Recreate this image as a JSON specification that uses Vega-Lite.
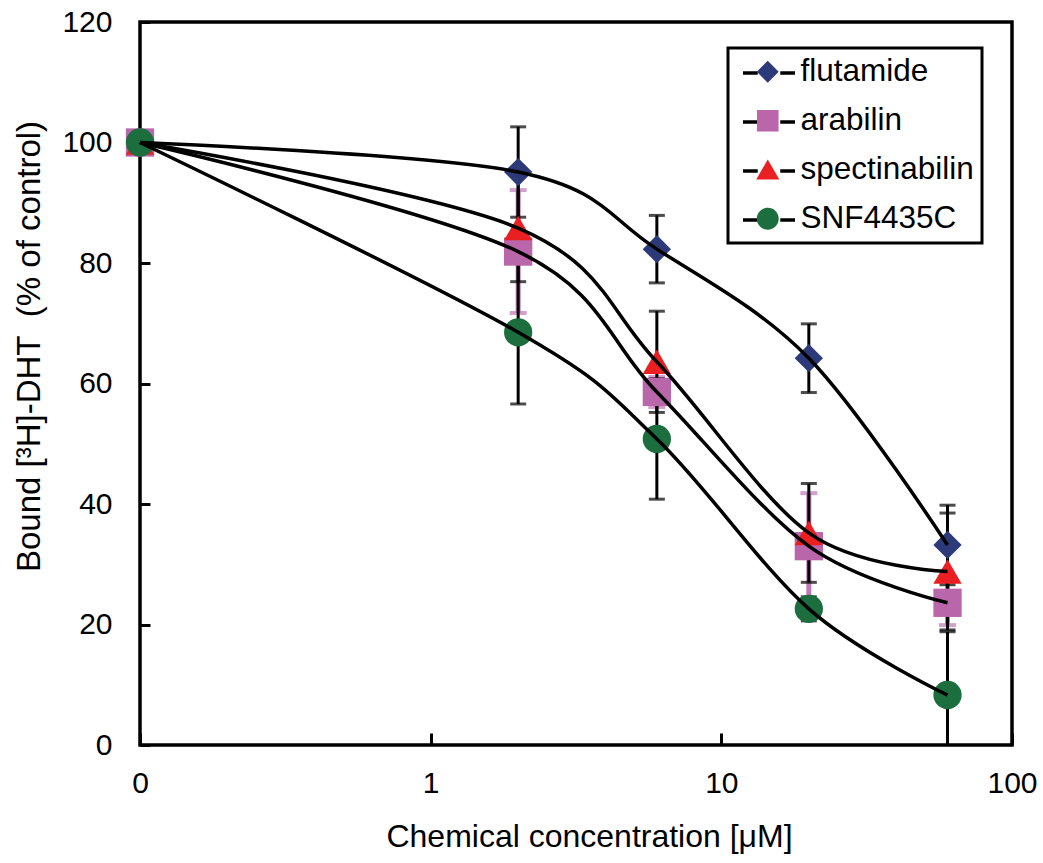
{
  "$schema": "https://vega.github.io/schema/vega-lite/v6.json",
  "width": 872,
  "height": 723,
  "autosize": {"type": "none"},
  "padding": {"left": 140, "top": 22, "right": 31, "bottom": 118},
  "background": "white",
  "config": {
    "view": {"stroke": "black", "strokeWidth": 3.5},
    "font": "Liberation Sans",
    "legend": {"strokeWidth": 3},
    "axis": {"domain": false, "grid": false, "labelFont": "Liberation Sans", "titleFont": "Liberation Sans", "labelColor": "black", "titleColor": "black", "tickColor": "black", "titleFontWeight": "normal"}
  },
  "data": {
    "values": [
      {"series": "flutamide", "conc": 0.1, "mean": 100, "sd": 0},
      {"series": "flutamide", "conc": 2, "mean": 95.1, "sd": 7.5},
      {"series": "flutamide", "conc": 6, "mean": 82.3, "sd": 5.6},
      {"series": "flutamide", "conc": 20, "mean": 64.2, "sd": 5.7},
      {"series": "flutamide", "conc": 60, "mean": 33.2, "sd": 6.6},
      {"series": "arabilin", "conc": 0.1, "mean": 100, "sd": 0},
      {"series": "arabilin", "conc": 2, "mean": 81.9, "sd": 10.2},
      {"series": "arabilin", "conc": 6, "mean": 58.6, "sd": 2.5},
      {"series": "arabilin", "conc": 20, "mean": 33.0, "sd": 8.8},
      {"series": "arabilin", "conc": 60, "mean": 23.6, "sd": 3.7},
      {"series": "spectinabilin", "conc": 0.1, "mean": 100, "sd": 0},
      {"series": "spectinabilin", "conc": 2, "mean": 85.8, "sd": 8.9},
      {"series": "spectinabilin", "conc": 6, "mean": 63.6, "sd": 8.4},
      {"series": "spectinabilin", "conc": 20, "mean": 35.2, "sd": 8.2},
      {"series": "spectinabilin", "conc": 60, "mean": 28.8, "sd": 9.7},
      {"series": "SNF4435C", "conc": 0.1, "mean": 100, "sd": 0},
      {"series": "SNF4435C", "conc": 2, "mean": 68.5, "sd": 11.9},
      {"series": "SNF4435C", "conc": 6, "mean": 50.8, "sd": 10.0},
      {"series": "SNF4435C", "conc": 20, "mean": 22.6, "sd": 2.0},
      {"series": "SNF4435C", "conc": 60, "mean": 8.3, "sd": 10.5}
    ]
  },
  "encoding": {
    "x": {
      "field": "conc", "type": "quantitative",
      "scale": {"type": "log", "domain": [0.1, 100], "nice": false},
      "axis": {
        "values": [0.1, 1, 10, 100],
        "labelExpr": "datum.value < 0.5 ? '0' : format(datum.value, 'd')",
        "labelFontSize": 30, "labelPadding": 59, "labelBaseline": "alphabetic", "labelFlush": false,
        "tickSize": -12, "tickWidth": 3,
        "title": "Chemical concentration [μM]", "titleFontSize": 32,
        "titleX": 449, "titleY": 101, "titleBaseline": "alphabetic", "titleAlign": "center"
      }
    },
    "y": {
      "field": "mean", "type": "quantitative",
      "scale": {"domain": [0, 120], "nice": false},
      "axis": {
        "values": [0, 20, 40, 60, 80, 100, 120],
        "labelFontSize": 30, "labelPadding": 38, "labelFlush": false,
        "tickSize": -10, "tickWidth": 3,
        "title": "Bound [³H]-DHT\u00a0\u00a0(% of control)", "titleFontSize": 33,
        "titleX": -111, "titleY": 324, "titleAngle": -90, "titleAlign": "center", "titleBaseline": "middle"
      }
    }
  },
  "resolve": {"scale": {"fill": "independent", "shape": "independent"}},
  "layer": [
    {
      "transform": [{"filter": "datum.series === 'arabilin'"}],
      "mark": {"type": "errorbar", "ticks": {"size": 17, "thickness": 4}, "rule": {"strokeWidth": 5}, "color": "#c277b6", "clip": true},
      "encoding": {"yError": {"field": "sd"}}
    },
    {
      "transform": [{"filter": "datum.series !== 'arabilin'"}],
      "mark": {"type": "errorbar", "ticks": {"size": 16, "thickness": 3}, "rule": {"strokeWidth": 3}, "color": "black", "clip": true},
      "encoding": {"yError": {"field": "sd"}}
    },
    {
      "mark": {"type": "point", "filled": true, "size": 800, "opacity": 1, "strokeWidth": 0},
      "encoding": {
        "fill": {
          "field": "series", "type": "nominal",
          "scale": {"domain": ["flutamide", "arabilin", "spectinabilin", "SNF4435C"], "range": ["#2d3a7a", "#b966aa", "#ea1f22", "#1c6e3e"]},
          "legend": null
        },
        "shape": {
          "field": "series", "type": "nominal",
          "scale": {"domain": ["flutamide", "arabilin", "spectinabilin", "SNF4435C"], "range": ["diamond", "square", "triangle-up", "circle"]},
          "legend": null
        }
      }
    },
    {
      "mark": {"type": "line", "interpolate": "cardinal", "strokeWidth": 3.5},
      "encoding": {
        "stroke": {
          "field": "series", "type": "nominal",
          "scale": {"range": ["black"]},
          "legend": {
            "orient": "none", "legendX": 588, "legendY": 26, "title": null, "zindex": 1,
            "symbolType": "M-0.667,0H0.317M1.817,0H2.8", "symbolSize": 900, "symbolStrokeWidth": 3.5, "symbolStrokeColor": "black",
            "labelExpr": "'\u00a0'",
            "labelFont": "Liberation Sans", "labelFontSize": 31.5, "labelColor": "rgba(0,0,0,0)", "labelOffset": -20, "labelLimit": 400,
            "rowPadding": 16, "padding": 8
          }
        }
      }
    },
    {
      "mark": {"type": "point", "filled": true, "opacity": 0, "strokeWidth": 0},
      "encoding": {
        "fill": {
          "field": "series", "type": "nominal",
          "scale": {"domain": ["flutamide", "arabilin", "spectinabilin", "SNF4435C"], "range": ["#2d3a7a", "#b966aa", "#ea1f22", "#1c6e3e"]},
          "legend": {
            "orient": "none", "legendX": 588, "legendY": 26, "title": null, "zindex": 2,
            "symbolSize": 900, "symbolStrokeWidth": 0, "symbolStrokeColor": "transparent", "symbolOpacity": 1,
            "labelFont": "Liberation Sans", "labelFontSize": 31.5, "labelColor": "black", "labelOffset": 33, "labelLimit": 400,
            "rowPadding": 16, "padding": 8, "strokeColor": "black"
          }
        },
        "shape": {
          "field": "series", "type": "nominal",
          "scale": {"domain": ["flutamide", "arabilin", "spectinabilin", "SNF4435C"], "range": [
            "M-0.667,0L2.8,0M0.337,0L1.067,-0.733L1.797,0L1.067,0.733Z",
            "M-0.667,0L2.8,0M0.347,-0.72H1.787V0.72H0.347Z",
            "M-0.667,0L2.8,0M1.067,-0.68L1.837,0.65H0.297Z",
            "M-0.667,0L2.8,0M1.797,0A0.73,0.73 0 1,1 0.337,0A0.73,0.73 0 1,1 1.797,0Z"
          ]},
          "legend": {
            "orient": "none", "legendX": 588, "legendY": 26, "title": null, "zindex": 2,
            "symbolSize": 900, "symbolStrokeWidth": 0, "symbolStrokeColor": "transparent", "symbolOpacity": 1,
            "labelFont": "Liberation Sans", "labelFontSize": 31.5, "labelColor": "black", "labelOffset": 33, "labelLimit": 400,
            "rowPadding": 16, "padding": 8, "strokeColor": "black"
          }
        }
      }
    }
  ]
}
